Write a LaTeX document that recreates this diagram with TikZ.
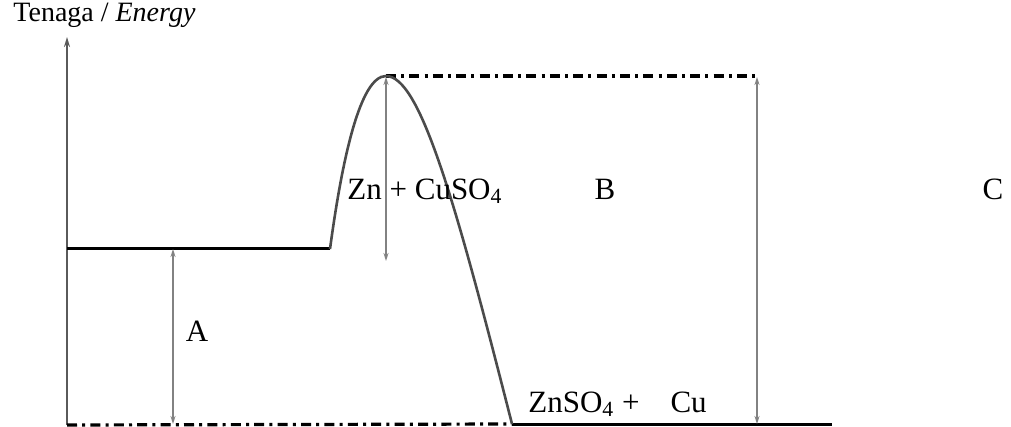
\documentclass[tikz,border=0pt]{standalone}
\usepackage{fontspec}
\setmainfont{Liberation Serif}
\usetikzlibrary{arrows.meta, positioning, calc}
\definecolor{axisgray}{RGB}{90, 90, 90}
\definecolor{arrgray}{RGB}{130, 130, 130}
\definecolor{curvegray}{RGB}{75, 75, 75}

\begin{document}
\begin{tikzpicture}[
  x=0.5pt, y=-0.5pt,
  lvl/.style={line width=1.5pt, black},
  dashlvl/.style={line width=1.6pt, black, dash pattern=on 5pt off 2.6pt on 1.5pt off 2.6pt},
  gaparrow/.style={{Stealth[length=4pt, width=2.5pt]}-{Stealth[length=4pt, width=2.5pt]}, line width=0.9pt, arrgray},
  lbl/.style={inner sep=0pt, font=\fontsize{15.5}{18}\selectfont}
]
  \useasboundingbox (0,0) rectangle (1011,427);

  % Axis
  \coordinate (orig) at (67,425);
  \coordinate (ytop) at (67,37);
  \draw[-{Stealth[length=5pt, width=3pt]}, line width=0.9pt, axisgray] (orig) -- (ytop);
  \node[lbl, anchor=west, font=\fontsize{14}{17}\selectfont] (ytitle) at (13,15) {Tenaga / \textit{Energy}};

  % Levels
  \coordinate (r1) at (67,249);
  \coordinate (r2) at (330,249);
  \coordinate (peak) at (386,76);
  \coordinate (topend) at (757,76);
  \coordinate (p1) at (512,424);
  \coordinate (p2) at (832,424);
  \draw[lvl] (r1) -- (r2);
  \draw[lvl] (p1) -- (p2);
  \draw[dashlvl] (peak) -- (topend);
  \draw[dashlvl] (orig) -- (p1);

  % Energy profile
  \draw[line width=1.3pt, curvegray] (r2) .. controls (342,160) and (360,76) .. (peak)
    .. controls (420,76) and (455,200) .. (p1);

  % Arrows
  \coordinate (a1) at (173,249);
  \coordinate (a2) at (173,424);
  \coordinate (b1) at (386,77);
  \coordinate (b2) at (386,261);
  \coordinate (c1) at (757,77);
  \coordinate (c2) at (757,424);
  \draw[gaparrow] (a1) -- (a2);
  \draw[gaparrow] (b1) -- (b2);
  \draw[gaparrow] (c1) -- (c2);

  % Labels
  \node[lbl, anchor=base west] (react) at (347,199) {Zn + CuSO\textsubscript{4}};
  \node[lbl, anchor=base] (lblB) at (605,199) {B};
  \node[lbl, anchor=base] (lblC) at (993,199) {C};
  \node[lbl, anchor=base] (lblA) at (197,341) {A};
  \node[lbl, anchor=base west] (prod) at (528,412) {ZnSO\textsubscript{4} +\ \ \ \ Cu};
\end{tikzpicture}
\end{document}
